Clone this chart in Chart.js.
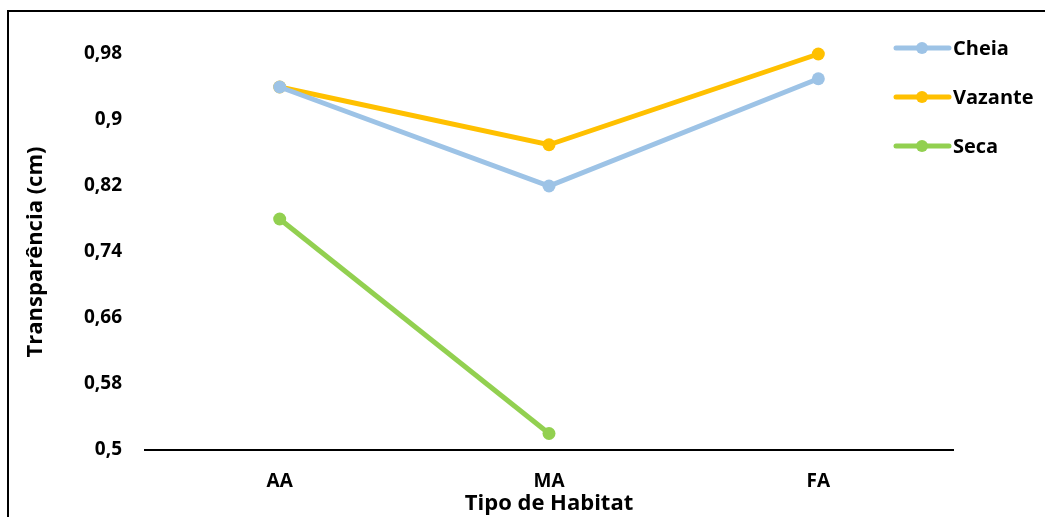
<!DOCTYPE html>
<html>
<head>
<meta charset="utf-8">
<script src="https://cdn.jsdelivr.net/npm/chart.js@4"></script>
<style>
  html, body { margin: 0; padding: 0; background: #fff; }
  #wrap { width: 1045px; height: 517px; position: relative; }
</style>
</head>
<body>
<div id="wrap"><canvas id="chart1"></canvas></div>
<script>
const habitats = ['AA', 'MA', 'FA']
const cheia = [0.94, 0.82, 0.95]
const vazante = [0.94, 0.87, 0.98]
const seca = [0.78, 0.52, null]
const yTicks = [0.5, 0.58, 0.66, 0.74, 0.82, 0.9, 0.98]

const azul = '#9DC3E6'
const amarelo = '#FFC000'
const verde = '#92D050'
const fonte = '"Open Sans", sans-serif'

// moldura e legenda desenhadas a mao
const molduraLegenda = {
  id: 'molduraLegenda',
  afterDraw(chart) {
    const c = chart.ctx
    c.save()
    c.strokeStyle = '#000'
    c.lineWidth = 2
    c.beginPath()
    c.moveTo(8, 517)
    c.lineTo(8, 11)
    c.lineTo(1045, 11)
    c.stroke()

    let y = 48
    for (const ds of chart.data.datasets) {
      c.strokeStyle = ds.borderColor
      c.lineWidth = 5
      c.lineCap = 'round'
      c.beginPath()
      c.moveTo(896, y)
      c.lineTo(949, y)
      c.stroke()
      c.fillStyle = ds.borderColor
      c.beginPath()
      c.arc(922, y, 6, 0, Math.PI * 2)
      c.fill()
      c.fillStyle = '#000'
      c.font = 'bold 20px ' + fonte
      c.textBaseline = 'middle'
      c.textAlign = 'left'
      c.fillText(ds.label, 953, y + 1)
      y += 49
    }
    c.restore()
  }
}

const ctx = document.getElementById('chart1').getContext('2d')

new Chart(ctx, {
  type: 'line',
  data: {
    labels: habitats,
    datasets: [{
      label: 'Cheia',
      data: cheia,
      borderColor: azul,
      backgroundColor: azul
    }, {
      label: 'Vazante',
      data: vazante,
      borderColor: amarelo,
      backgroundColor: amarelo
    }, {
      label: 'Seca',
      data: seca,
      borderColor: verde,
      backgroundColor: verde
    }]
  },
  options: {
    responsive: true,
    maintainAspectRatio: false,
    animation: false,
    clip: false,
    layout: { padding: { top: 54, right: 92, bottom: 0, left: 0 } },
    elements: {
      line: { borderWidth: 5, tension: 0 },
      point: { radius: 6.5, borderWidth: 0, hoverRadius: 6.5 }
    },
    plugins: {
      legend: { display: false },
      tooltip: { enabled: false }
    },
    scales: {
      x: {
        offset: true,
        grid: { display: false, drawTicks: false },
        border: { display: true, color: '#000', width: 2 },
        ticks: { color: '#000', font: { family: fonte, size: 19, weight: 'bold' }, padding: 20 },
        title: {
          display: true,
          text: 'Tipo de Habitat',
          color: '#000',
          font: { family: fonte, size: 22, weight: 'bold' },
          padding: { top: 0, bottom: 0 }
        },
        afterFit(scale) { scale.height = 67 }
      },
      y: {
        min: 0.5,
        max: 0.98,
        grid: { display: false, drawTicks: false },
        border: { display: false },
        afterBuildTicks(scale) { scale.ticks = yTicks.map(v => ({ value: v })) },
        ticks: {
          color: '#000',
          font: { family: fonte, size: 19, weight: 'bold' },
          padding: 23,
          callback: v => String(v).replace('.', ',')
        },
        title: {
          display: true,
          text: 'Transparência (cm)',
          color: '#000',
          font: { family: fonte, size: 22, weight: 'bold' },
          padding: { top: 23, bottom: 0 }
        },
        afterFit(scale) { scale.width = 145 }
      }
    }
  },
  plugins: [molduraLegenda]
})
</script>
</body>
</html>
